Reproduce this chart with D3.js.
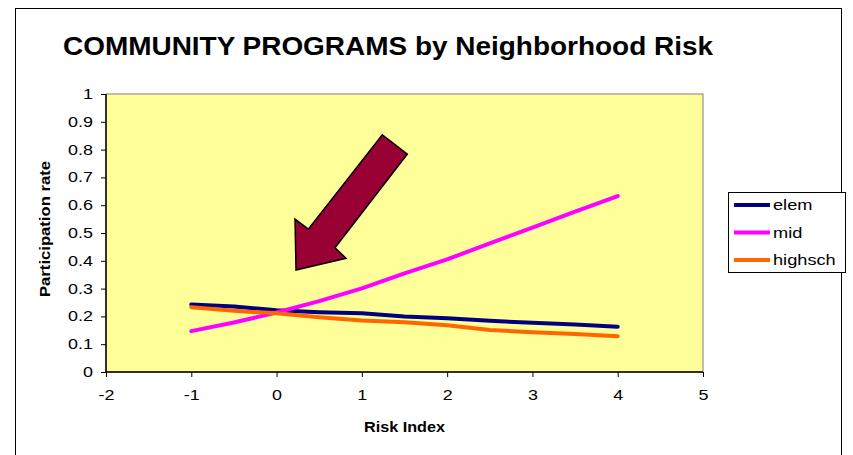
<!DOCTYPE html>
<html><head><meta charset="utf-8">
<script src="https://cdn.jsdelivr.net/npm/d3@7"></script>
<style>html,body{margin:0;padding:0;background:#fff;}svg{display:block;font-family:Arial,"Liberation Sans",sans-serif;}</style>
</head><body>
<script>
const xValues = [-1, -0.5, 0, 0.5, 1, 1.5, 2, 2.5, 3, 3.5, 4];
const elem    = [0.243, 0.236, 0.222, 0.215, 0.211, 0.200, 0.193, 0.184, 0.177, 0.171, 0.163];
const mid     = [0.147, 0.178, 0.214, 0.255, 0.301, 0.355, 0.405, 0.463, 0.519, 0.577, 0.633];
const highsch = [0.233, 0.220, 0.211, 0.197, 0.185, 0.179, 0.168, 0.151, 0.143, 0.137, 0.129];
const seriesNames = ["elem", "mid", "highsch"];
const xTicks = [-2, -1, 0, 1, 2, 3, 4, 5];
const yTicks = [0, 0.1, 0.2, 0.3, 0.4, 0.5, 0.6, 0.7, 0.8, 0.9, 1];
// annotation arrow, in data units (x: risk index, y: participation rate)
const arrowX = [1.24, 1.533, 0.685, 0.814, 0.228, 0.216, 0.372];
const arrowY = [0.853, 0.784, 0.447, 0.409, 0.367, 0.550, 0.514];

const W = 853, H = 455;
const m = {left: 106, right: 150, top: 94, bottom: 83};
const svg = d3.select("body").append("svg").attr("width", W).attr("height", H);

svg.append("rect").attr("x", 15.5).attr("y", 8.5).attr("width", 826).attr("height", 470)
  .attr("fill", "#fff").attr("stroke", "#000").attr("stroke-width", 1);

const x = d3.scaleLinear().domain([-2, 5]).range([m.left, W - m.right]);
const y = d3.scaleLinear().domain([0, 1]).range([H - m.bottom, m.top]);

svg.append("rect").attr("x", x(-2)).attr("y", y(1)).attr("width", x(5) - x(-2)).attr("height", y(0) - y(1))
  .attr("fill", "#FFFF99").attr("stroke", "#808080").attr("stroke-width", 1);

const color = {elem: "#000080", mid: "#FF00FF", highsch: "#FF6600"};
const data = {elem, mid, highsch};

const line = d3.line().x((d, i) => x(xValues[i])).y(d => y(d));
seriesNames.forEach(n => {
  svg.append("path").datum(data[n]).attr("d", line).attr("fill", "none")
    .attr("stroke", color[n]).attr("stroke-width", 4).attr("stroke-linejoin", "round").attr("stroke-linecap", "round");
});

// arrow annotation
const arrowPts = arrowX.map((v, i) => [x(v), y(arrowY[i])]);
svg.append("path").attr("d", d3.line()(arrowPts) + "Z")
  .attr("fill", "#990033").attr("stroke", "#000").attr("stroke-width", 1.5).attr("stroke-linejoin", "miter");

function widen(sel, f) {
  sel.each(function () {
    const len = this.getComputedTextLength();
    d3.select(this).attr("textLength", len * f).attr("lengthAdjust", "spacingAndGlyphs");
  });
}

// axes
const xAxis = d3.axisBottom(x).tickValues(xTicks).tickSize(5).tickPadding(13).tickFormat(d => String(d));
const gx = svg.append("g").attr("transform", `translate(0,${y(0)})`).call(xAxis);
const yAxis = d3.axisLeft(y).tickValues(yTicks).tickSize(5).tickPadding(8).tickFormat(d => d === 0 || d === 1 ? String(d) : d3.format(".1f")(d));
const gy = svg.append("g").attr("transform", `translate(${x(-2)},0)`).call(yAxis);
[gx, gy].forEach(g => {
  g.attr("font-size", null).attr("font-family", null);
  g.select(".domain").attr("stroke", "#000").attr("stroke-width", 1.5);
  g.selectAll(".tick line").attr("stroke", "#000");
  g.selectAll(".tick text").style("font-size", "14px").style("font-family", "Arial, 'Liberation Sans', sans-serif").attr("fill", "#000");
  widen(g.selectAll(".tick text"), 1.28);
});
gx.select(".domain").attr("d", `M${x(-2)},0H${x(5)}`);
gy.select(".domain").attr("d", `M0,${y(0)}V${y(1)}`);

// titles
svg.append("text").attr("x", 388).attr("y", 55).attr("text-anchor", "middle")
  .attr("font-size", 26).attr("font-weight", "bold")
  .attr("textLength", 650).attr("lengthAdjust", "spacingAndGlyphs")
  .text("COMMUNITY PROGRAMS by Neighborhood Risk");
svg.append("text").attr("x", (x(-2) + x(5)) / 2).attr("y", 432).attr("text-anchor", "middle")
  .attr("font-size", 15).attr("font-weight", "bold")
  .attr("textLength", 81).attr("lengthAdjust", "spacingAndGlyphs").text("Risk Index");
svg.append("text").attr("transform", `translate(50,${(y(0) + y(1)) / 2 - 4}) rotate(-90)`).attr("text-anchor", "middle")
  .attr("font-size", 15).attr("font-weight", "bold")
  .attr("textLength", 136).attr("lengthAdjust", "spacingAndGlyphs").text("Participation rate");

// legend
const lg = svg.append("g");
lg.append("rect").attr("x", 728.5).attr("y", 192.5).attr("width", 117).attr("height", 80)
  .attr("fill", "#fff").attr("stroke", "#000").attr("stroke-width", 1);
seriesNames.forEach((n, i) => {
  const ly = 205 + i * 27.5;
  lg.append("line").attr("x1", 734).attr("x2", 770).attr("y1", ly).attr("y2", ly)
    .attr("stroke", color[n]).attr("stroke-width", 4);
  const t = lg.append("text").attr("x", 773).attr("y", ly + 5).attr("font-size", 14).text(n);
  widen(t, 1.3);
});
</script>
</body></html>
